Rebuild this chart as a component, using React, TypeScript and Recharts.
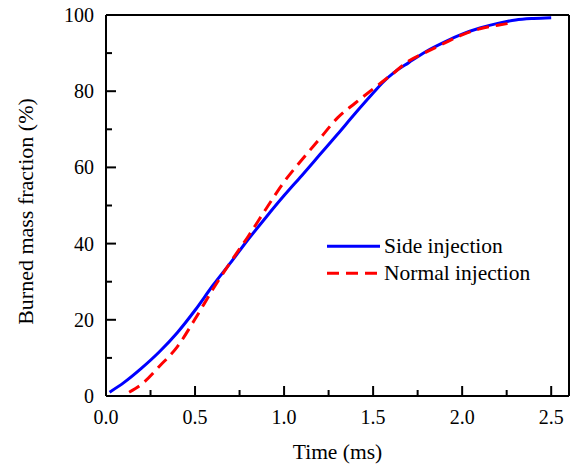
import { LineChart, Line, XAxis, YAxis, Legend } from 'recharts';

const FONT = '"Liberation Serif", "Times New Roman", serif';

// Side injection (blue, solid)
const sideTime = [0.02, 0.1, 0.2, 0.3, 0.4, 0.5, 0.6, 0.7, 0.8, 0.9, 1.0, 1.1, 1.2, 1.3, 1.4, 1.5, 1.55, 1.62, 1.7, 1.8, 1.9, 2.0, 2.1, 2.2, 2.3, 2.4, 2.5];
const sideBurned = [1.0, 3.5, 7.3, 11.6, 16.6, 22.5, 29.0, 35.0, 41.2, 47.0, 52.6, 57.9, 63.3, 68.7, 74.2, 79.5, 82.1, 85.0, 87.5, 90.5, 92.9, 95.0, 96.6, 97.8, 98.7, 99.1, 99.3];

// Normal injection (red, dashed)
const normalTime = [0.13, 0.2, 0.3, 0.4, 0.5, 0.6, 0.7, 0.8, 0.9, 1.0, 1.1, 1.2, 1.3, 1.4, 1.5, 1.6, 1.7, 1.8, 1.9, 2.0, 2.1, 2.2, 2.26];
const normalBurned = [1.0, 3.1, 7.8, 12.9, 20.2, 28.0, 35.2, 42.0, 49.2, 56.2, 62.0, 67.5, 73.0, 76.9, 80.6, 84.2, 87.9, 90.3, 92.6, 94.8, 96.4, 97.3, 97.8];

const seriesNames = ['Side injection', 'Normal injection'];

const xTicks = [0, 0.25, 0.5, 0.75, 1, 1.25, 1.5, 1.75, 2, 2.25, 2.5];
const xLabeled = [0, 0.5, 1, 1.5, 2, 2.5];
const yTicks = [0, 10, 20, 30, 40, 50, 60, 70, 80, 90, 100];
const yLabeled = [0, 20, 40, 60, 80, 100];

const sideData = sideTime.map((t, i) => ({ t, v: sideBurned[i] }));
const normalData = normalTime.map((t, i) => ({ t, v: normalBurned[i] }));

function BottomTick(props: any) {
  const { x, y, payload } = props;
  const major = xLabeled.includes(payload.value);
  return (
    <g>
      <line x1={x} x2={x} y1={y} y2={y - (major ? 10 : 6)} stroke="#000" strokeWidth={2} />
      {major && (
        <text x={x} y={y + 27.5} textAnchor="middle" fontSize={20} fontFamily={FONT} fill="#000">
          {payload.value.toFixed(1)}
        </text>
      )}
    </g>
  );
}

function TopTick(props: any) {
  const { x, y, payload } = props;
  const major = xLabeled.includes(payload.value);
  return <line x1={x} x2={x} y1={y} y2={y + (major ? 10 : 6)} stroke="#000" strokeWidth={2} />;
}

function LeftTick(props: any) {
  const { x, y, payload } = props;
  const major = yLabeled.includes(payload.value);
  return (
    <g>
      <line x1={x} x2={x + (major ? 10 : 6)} y1={y} y2={y} stroke="#000" strokeWidth={2} />
      {major && (
        <text x={x - 12} y={y + 7} textAnchor="end" fontSize={20} fontFamily={FONT} fill="#000">
          {payload.value}
        </text>
      )}
    </g>
  );
}

function RightTick(props: any) {
  const { x, y, payload } = props;
  const major = yLabeled.includes(payload.value);
  return <line x1={x} x2={x - (major ? 10 : 6)} y1={y} y2={y} stroke="#000" strokeWidth={2} />;
}

function LegendBox(props: any) {
  const items = [...(props.payload || [])].sort(
    (a: any, b: any) => seriesNames.indexOf(a.value) - seriesNames.indexOf(b.value)
  );
  return (
    <div style={{ fontFamily: FONT, fontSize: 21.5, color: '#000' }}>
      {items.map((it: any) => (
        <div key={it.value} style={{ display: 'flex', alignItems: 'center', height: 26.7, lineHeight: '26.7px' }}>
          <svg width={53} height={26.7} style={{ marginRight: 4 }}>
            <line
              x1={0}
              x2={53}
              y1={13.3}
              y2={13.3}
              stroke={it.color}
              strokeWidth={3}
              strokeDasharray={it.payload?.strokeDasharray}
            />
          </svg>
          <span>{it.value}</span>
        </div>
      ))}
    </div>
  );
}

export default function App() {
  const axisLine = { stroke: '#000', strokeWidth: 2 };
  return (
    <div style={{ position: 'absolute', left: 0, top: 0, background: '#fff' }}>
      <LineChart width={581} height={469} margin={{ top: 14, right: 11, bottom: 10, left: 0 }}>
        <XAxis
          xAxisId="b"
          dataKey="t"
          type="number"
          domain={[0, 2.6]}
          ticks={xTicks}
          interval={0}
          height={63}
          tickSize={0}
          tickMargin={0}
          tickLine={false}
          axisLine={axisLine}
          tick={<BottomTick />}
          label={{ value: 'Time (ms)', position: 'insideBottom', offset: 0, fontSize: 21.5, fontFamily: FONT, fill: '#000' }}
        />
        <XAxis
          xAxisId="t"
          orientation="top"
          dataKey="t"
          type="number"
          domain={[0, 2.6]}
          ticks={xTicks}
          interval={0}
          height={1}
          tickSize={0}
          tickMargin={0}
          tickLine={false}
          axisLine={axisLine}
          tick={<TopTick />}
        />
        <YAxis
          yAxisId="l"
          type="number"
          domain={[0, 100]}
          ticks={yTicks}
          interval={0}
          width={106}
          tickSize={0}
          tickMargin={0}
          tickLine={false}
          axisLine={axisLine}
          tick={<LeftTick />}
          label={{ value: 'Burned mass fraction (%)', angle: -90, position: 'center', dx: -28, dy: 6, fontSize: 22, fontFamily: FONT, fill: '#000' }}
        />
        <YAxis
          yAxisId="r"
          orientation="right"
          type="number"
          domain={[0, 100]}
          ticks={yTicks}
          interval={0}
          width={1}
          tickSize={0}
          tickMargin={0}
          tickLine={false}
          axisLine={axisLine}
          tick={<RightTick />}
        />
        <Line
          xAxisId="b"
          yAxisId="l"
          data={sideData}
          dataKey="v"
          name={seriesNames[0]}
          type="monotone"
          stroke="#0000ff"
          strokeWidth={3}
          dot={false}
          isAnimationActive={false}
        />
        <Line
          xAxisId="b"
          yAxisId="l"
          data={normalData}
          dataKey="v"
          name={seriesNames[1]}
          type="monotone"
          stroke="#ff0000"
          strokeWidth={3}
          strokeDasharray="12 7"
          dot={false}
          isAnimationActive={false}
        />
        <Legend
          layout="vertical"
          verticalAlign="middle"
          align="center"
          wrapperStyle={{ left: 327, top: 233, width: 240 }}
          content={<LegendBox />}
        />
      </LineChart>
    </div>
  );
}
